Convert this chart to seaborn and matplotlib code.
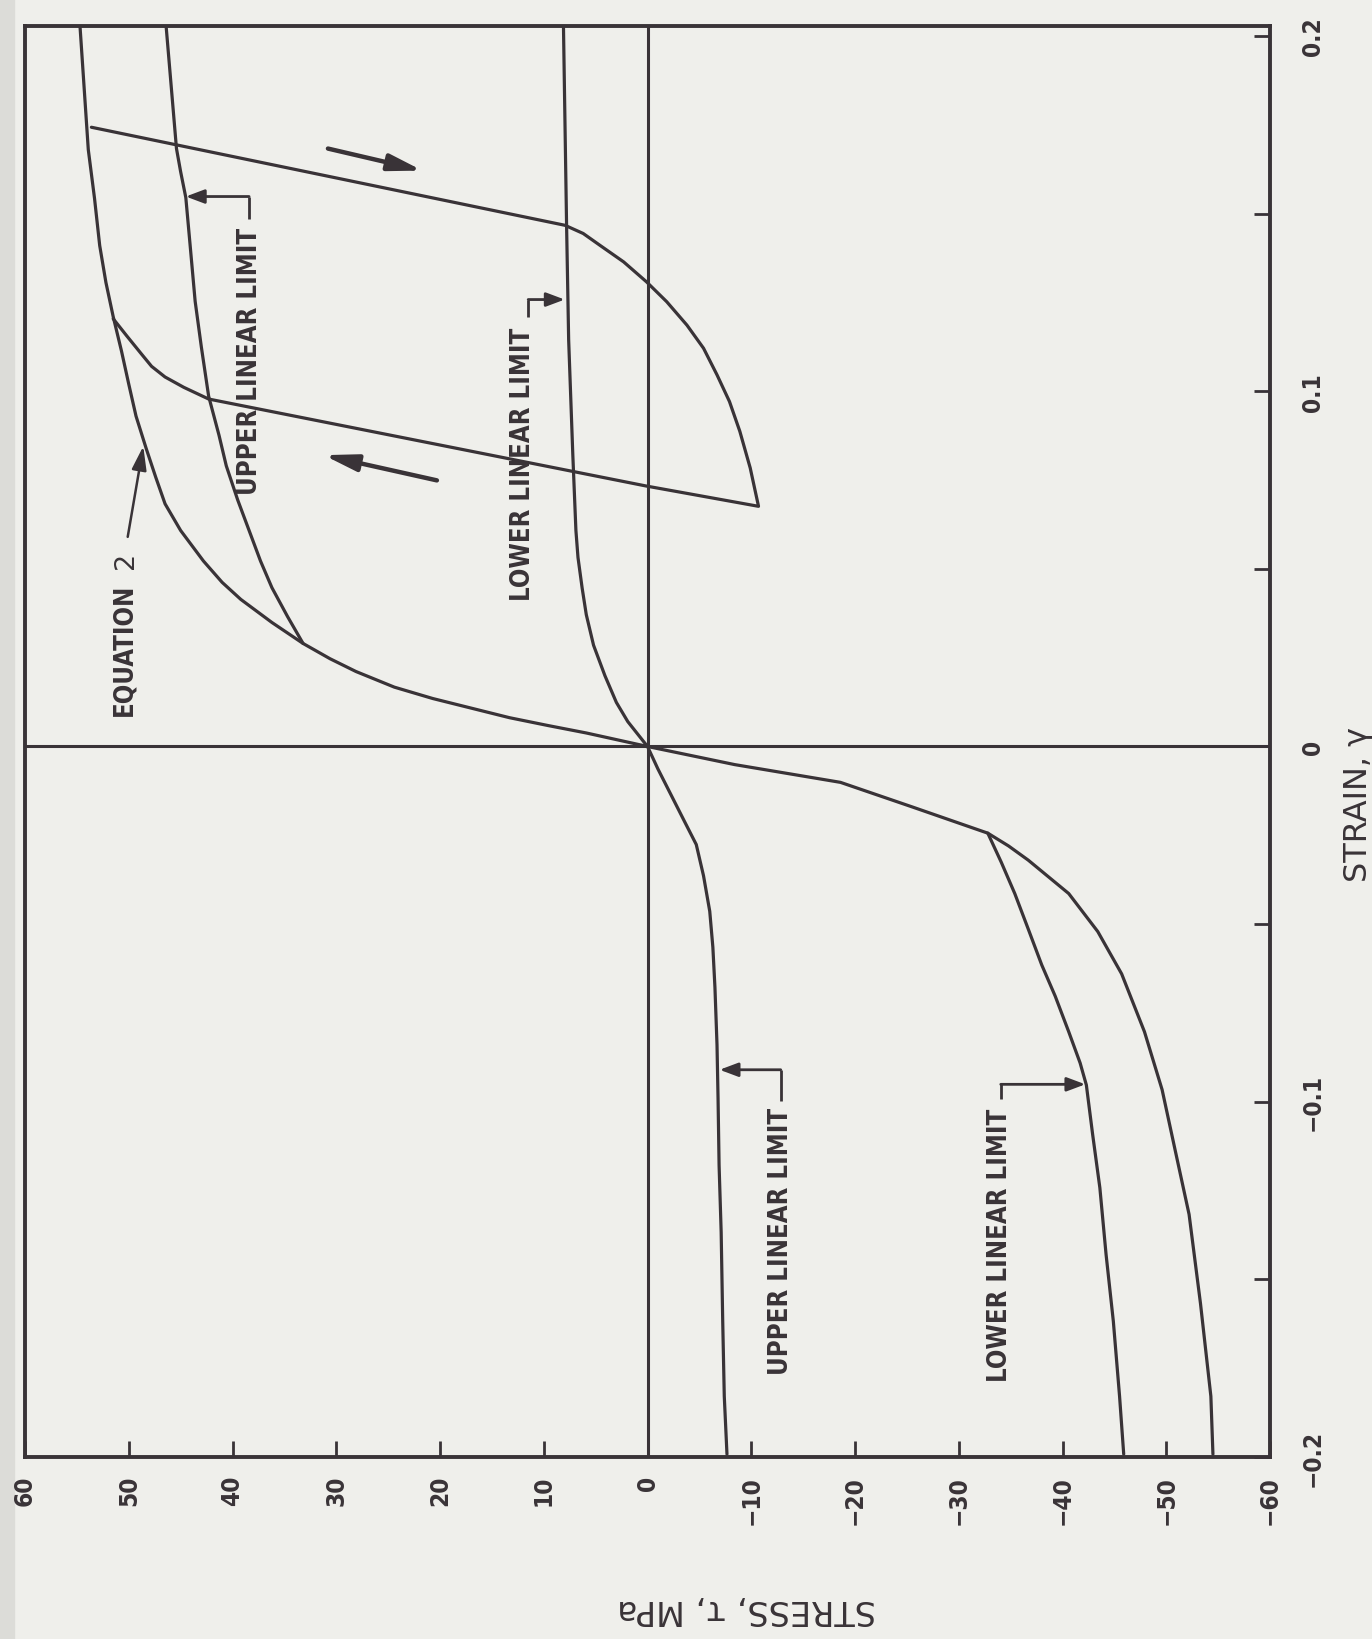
import matplotlib
matplotlib.use('Agg')
import pandas as pd
import matplotlib.pyplot as plt
import seaborn as sns
from matplotlib import font_manager
from matplotlib.patches import Rectangle

# values: stress in MPa, strain (dimensionless)
# the page is turned a quarter turn, so stress runs along the bottom and strain up the right side
eq2_up_stress = [0, 5.9, 9.6, 13.3, 17.0, 20.7, 24.4, 28.1, 30.6, 33.2, 36.2, 39.2, 41.0, 42.8,
                 45.0, 46.5, 47.4, 48.3, 49.3, 50.0, 50.7, 51.5, 52.2, 52.8, 53.3, 53.9, 54.7]
eq2_up_strain = [0, 0.0038, 0.0059, 0.0081, 0.0108, 0.0135, 0.0167, 0.0211, 0.0247, 0.0290, 0.0349,
                 0.0414, 0.0462, 0.0522, 0.0608, 0.0683, 0.0758, 0.0837, 0.0930, 0.102, 0.1113,
                 0.121, 0.1306, 0.141, 0.1543, 0.168, 0.2028]
eq2_lo_stress = [0, -8.4, -18.6, -25.5, -32.8, -34.8, -36.7, -40.6, -43.4, -45.7, -47.9, -49.6,
                 -50.9, -52.2, -53.3, -54.3, -54.5]
eq2_lo_strain = [0, -0.0051, -0.0101, -0.0170, -0.0244, -0.0280, -0.0320, -0.0414, -0.0521, -0.0640,
                 -0.0803, -0.0966, -0.1142, -0.1317, -0.1568, -0.1829, -0.1992]

ull_up_stress = [33.2, 34.7, 36.2, 37.3, 38.4, 39.5, 40.6, 41.3, 42.3, 43.0, 43.6, 44.1, 44.5,
                 45.0, 45.4, 46.4]
ull_up_strain = [0.0290, 0.0366, 0.0447, 0.0522, 0.0608, 0.0694, 0.0790, 0.0876, 0.0986, 0.1124,
                 0.1253, 0.1416, 0.1545, 0.1618, 0.1683, 0.2028]
ull_lo_stress = [0, -1.0, -2.3, -3.6, -4.7, -5.4, -6.0, -6.3, -6.5, -6.7, -6.8, -6.9, -7.1,
                 -7.25, -7.4, -7.66]
ull_lo_strain = [0, -0.0063, -0.0138, -0.0213, -0.0276, -0.0364, -0.0464, -0.0565, -0.0678,
                 -0.0840, -0.0991, -0.1179, -0.1367, -0.1618, -0.1829, -0.1992]

lll_up_stress = [0, 1.9, 3.0, 4.1, 5.2, 5.9, 6.3, 6.7, 6.9, 7.2, 7.6, 7.8, 8.1]
lll_up_strain = [0, 0.0070, 0.0124, 0.0199, 0.0285, 0.0371, 0.0446, 0.0532, 0.0608, 0.0822,
                 0.1145, 0.1468, 0.2028]
lll_lo_stress = [-32.8, -34.1, -35.4, -36.7, -38.0, -39.3, -40.6, -41.7, -42.3, -42.9, -43.6,
                 -44.2, -44.9, -45.5, -45.9]
lll_lo_strain = [-0.0244, -0.0326, -0.0414, -0.0514, -0.0615, -0.0703, -0.0803, -0.0891, -0.0953,
                 -0.1091, -0.1242, -0.1430, -0.1618, -0.1829, -0.1992]

loop_stress = [53.6, 7.95, 6.2, 4.6, 2.3, 0.1, -1.85, -3.8, -5.4, -6.7, -7.9, -8.9, -9.9, -10.7,
               0.1, 42.3, 44.7, 46.5, 47.8, 48.7, 50.2, 51.5]
loop_strain = [0.1743, 0.1467, 0.1444, 0.1411, 0.1364, 0.1308, 0.1252, 0.1186, 0.1121, 0.1046,
               0.0971, 0.0887, 0.0784, 0.0676, 0.0733, 0.0978, 0.1011, 0.1040, 0.1070, 0.1102,
               0.1156, 0.1204]

stress_ticks = [60, 50, 40, 30, 20, 10, 0, -10, -20, -30, -40, -50, -60]
stress_labels = ['60', '50', '40', '30', '20', '10', '0', '\u221210', '\u221220', '\u221230',
                 '\u221240', '\u221250', '\u221260']
strain_ticks = [-0.2, -0.1, 0, 0.1, 0.2]
strain_labels = ['\u22120.2', '\u22120.1', '0', '0.1', '0.2']
strain_minor = [-0.15, -0.05, 0.05, 0.15]

INK = '#393337'
BG = '#efefeb'


def pick_condensed():
    fonts = font_manager.fontManager.ttflist
    names = {f.name for f in fonts}
    if 'Liberation Sans Narrow' in names:
        return 'Liberation Sans Narrow', 'normal', 1.0
    if any(f.name == 'DejaVu Sans' and f.stretch == 'condensed' for f in fonts):
        return 'DejaVu Sans', 'condensed', 0.88
    return 'DejaVu Sans', 'normal', 0.82


def build_frame():
    parts = [
        ('eq2_up', eq2_up_stress, eq2_up_strain),
        ('eq2_lo', eq2_lo_stress, eq2_lo_strain),
        ('ull_up', ull_up_stress, ull_up_strain),
        ('ull_lo', ull_lo_stress, ull_lo_strain),
        ('lll_up', lll_up_stress, lll_up_strain),
        ('lll_lo', lll_lo_stress, lll_lo_strain),
        ('loop', loop_stress, loop_strain),
    ]
    rows = []
    for name, xs, ys in parts:
        for i, (x, y) in enumerate(zip(xs, ys)):
            rows.append([name, i, x, y])
    return pd.DataFrame(rows, columns=['curve', 'order', 'stress', 'strain'])


def bracket(ax, x0, y0, y1, x1):
    ax.plot([x0, x0], [y0, y1], color=INK, lw=2.0, solid_capstyle='butt')
    ax.annotate('', xy=(x1, y1), xytext=(x0, y1),
                arrowprops=dict(arrowstyle='-|>,head_length=0.8,head_width=0.3',
                                color=INK, lw=2.0, shrinkA=0, shrinkB=0, mutation_scale=14))


def main():
    sns.set_style('white')
    fam, stretch, k = pick_condensed()
    plt.rcParams['font.family'] = ['DejaVu Sans']

    fig = plt.figure(figsize=(13.72, 16.4), dpi=100, facecolor=BG)
    # darker page edge of the scan
    fig.patches.append(Rectangle((0, 0), 0.010, 1, transform=fig.transFigure,
                                 color='#dcdcd8', zorder=-5))
    ax = fig.add_axes([25 / 1372, 1 - 1458 / 1640, 1245 / 1372, 1431 / 1640])
    ax.set_facecolor(BG)

    df = build_frame()
    sns.lineplot(data=df, x='stress', y='strain', units='curve', estimator=None,
                 sort=False, color=INK, lw=2.3, ax=ax, legend=False)
    ax.axhline(0, color=INK, lw=2.2)
    ax.axvline(0, color=INK, lw=2.2)

    ax.set_xlim(60, -60)
    ax.set_ylim(-0.1992, 0.2028)
    for s in ax.spines.values():
        s.set_color(INK)
        s.set_linewidth(2.8)

    cond = dict(family=[fam, 'DejaVu Sans'], fontstretch=stretch, fontweight='bold')

    ax.set_xticks(stress_ticks)
    ax.set_xticklabels(stress_labels, rotation=90, fontsize=20 * k, color=INK, **cond)
    ax.yaxis.tick_right()
    ax.set_yticks(strain_ticks)
    ax.set_yticks(strain_minor, minor=True)
    ax.set_yticklabels(strain_labels, rotation=90, va='center', fontsize=20 * k, color=INK, **cond)
    ax.tick_params(axis='x', which='both', direction='in', length=11.5, width=2,
                   color=INK, pad=13, bottom=True, top=False)
    ax.tick_params(axis='y', which='both', direction='in', length=11.5, width=2,
                   color=INK, pad=22, right=True, left=False)
    ax.set_xlabel('')
    ax.set_ylabel('')

    # axis titles, turned with the page
    fig.text(1358 / 1372, 1 - 805 / 1640, 'STRAIN, \u03b3', rotation=90, ha='center', va='center',
             fontsize=23, color=INK)
    fig.text(747 / 1372, 1 - 1610 / 1640, 'STRESS, \u03c4, MPa', rotation=180, ha='center',
             va='center', fontsize=24, color=INK)

    lab = dict(rotation=90, ha='center', va='center', fontsize=21 * k, color=INK, **cond)
    ax.text(50.4, 0.0275, 'EQUATION', **lab)
    ax.text(50.3, 0.0527, '2', rotation=90, ha='center', va='center', fontsize=22 * k,
            color=INK, family=[fam, 'DejaVu Sans'])
    ax.text(38.3, 0.1087, 'UPPER LINEAR LIMIT', **lab)
    ax.text(12.0, 0.0798, 'LOWER LINEAR LIMIT', **lab)
    ax.text(-12.85, -0.139, 'UPPER LINEAR LIMIT', **lab)
    ax.text(-33.96, -0.1402, 'LOWER LINEAR LIMIT', **lab)

    # leader from the equation label to its curve
    ax.annotate('', xy=(48.6, 0.0845), xytext=(50.1, 0.0590),
                arrowprops=dict(arrowstyle='-|>,head_length=0.9,head_width=0.28',
                                color=INK, lw=1.8, shrinkA=0, shrinkB=0, mutation_scale=16))
    bracket(ax, 38.4, 0.1484, 0.1548, 44.5)
    bracket(ax, 11.5, 0.1210, 0.1258, 7.98)
    bracket(ax, -12.84, -0.0997, -0.0910, -6.95)
    bracket(ax, -34.05, -0.0991, -0.0951, -42.2)

    # loading direction arrows
    for tail, head in [((30.8, 0.1683), (21.7, 0.1621)), ((20.3, 0.0749), (31.2, 0.0820))]:
        ax.annotate('', xy=head, xytext=tail,
                    arrowprops=dict(arrowstyle='-|>,head_length=1.0,head_width=0.25',
                                    color=INK, lw=3.2, shrinkA=0, shrinkB=0, mutation_scale=20))

    fig.savefig('out.png', dpi=100, facecolor=BG)


if __name__ == '__main__':
    main()
